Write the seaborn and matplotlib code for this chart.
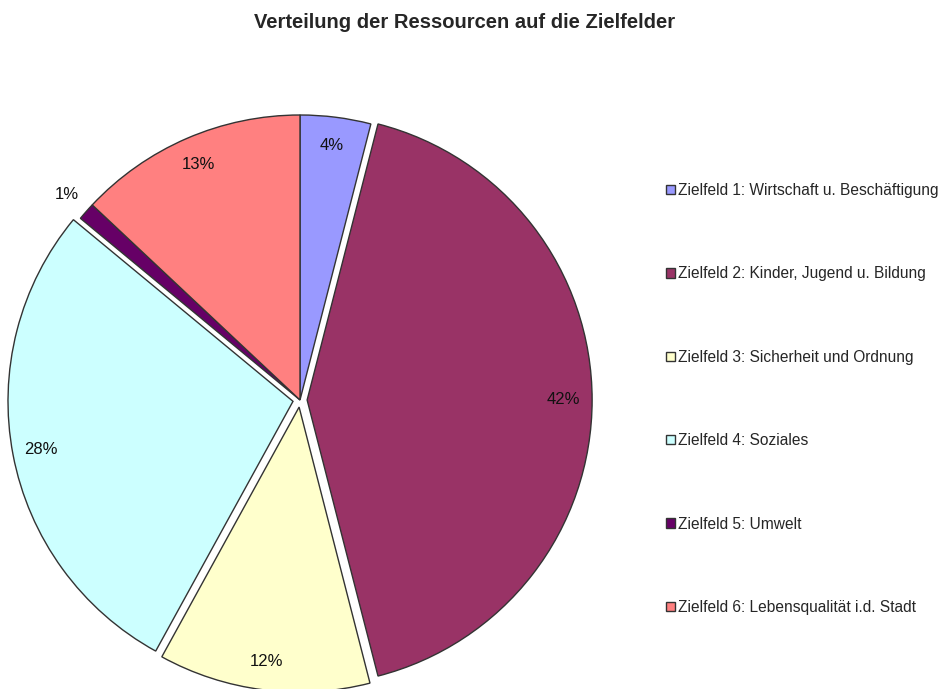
import numpy as np
import matplotlib
matplotlib.use("Agg")
import matplotlib.pyplot as plt
import seaborn as sns

categories = [
    "Zielfeld 1: Wirtschaft u. Beschäftigung",
    "Zielfeld 2: Kinder, Jugend u. Bildung",
    "Zielfeld 3: Sicherheit und Ordnung",
    "Zielfeld 4: Soziales",
    "Zielfeld 5: Umwelt",
    "Zielfeld 6: Lebensqualität i.d. Stadt",
]
values = [4, 42, 12, 28, 1, 13]
colors = ["#9999FF", "#993366", "#FFFFCC", "#CCFFFF", "#660066", "#FF8080"]
explode = [0, 0.025, 0.025, 0.025, 0, 0]
title = "Verteilung der Ressourcen auf die Zielfelder"

sns.set_style("white")
plt.rcParams["font.family"] = ["Liberation Sans", "DejaVu Sans"]

W, H = 941, 689
fig = plt.figure(figsize=(W / 100, H / 100), dpi=100)
ax = fig.add_axes([0, 0, 1, 1])

R = 285.0
cx, cy = 300.0, 400.0  # pixels from top-left

wedges, texts, autotexts = ax.pie(
    values,
    colors=colors,
    explode=explode,
    startangle=90,
    counterclock=False,
    autopct="%1.0f%%",
    pctdistance=0.9,
    wedgeprops=dict(edgecolor="#333333", linewidth=1.0),
    textprops=dict(fontsize=12, color="#111111"),
    frame=False,
)
ax.set_xlim(-cx / R, (W - cx) / R)
ax.set_ylim(-(H - cy) / R, cy / R)
ax.set_aspect("auto")
ax.axis("off")

# move the tiny slice label outside
w = wedges[4]
ang = np.deg2rad((w.theta1 + w.theta2) / 2)
autotexts[4].set_position((1.09 * np.cos(ang), 1.09 * np.sin(ang)))

fig.text(465 / W, 1 - 22 / H, title, ha="center", va="center",
         fontsize=14.5, fontweight="bold")

leg = fig.legend(
    wedges, categories,
    loc="center left",
    bbox_to_anchor=(666 / W, 1 - 399 / H),
    bbox_transform=fig.transFigure,
    frameon=False,
    fontsize=11.2,
    handlelength=0.55,
    handleheight=0.55,
    handletextpad=0.2,
    labelspacing=4.4,
    borderpad=0,
    borderaxespad=0,
)

fig.savefig("out.png", dpi=100, facecolor="white")
